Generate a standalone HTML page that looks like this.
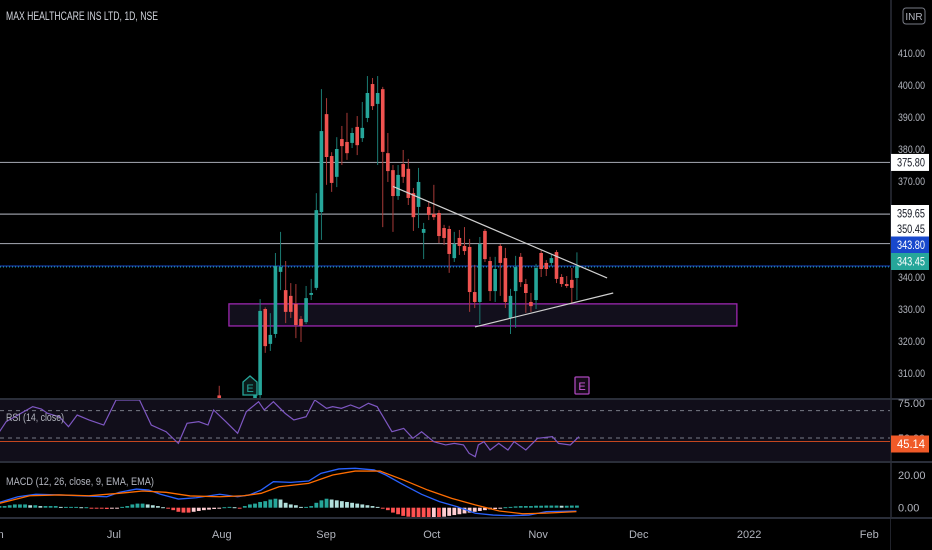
<!DOCTYPE html>
<html><head><meta charset="utf-8"><style>
html,body{margin:0;padding:0;background:#000;}
svg{display:block;font-family:"Liberation Sans Narrow","Liberation Sans",sans-serif;}
</style></head><body>
<svg id="chart" width="932" height="550" viewBox="0 0 932 550" xmlns="http://www.w3.org/2000/svg">
<defs>
<clipPath id="mainClip"><rect x="0" y="0" width="890" height="398"/></clipPath>
<clipPath id="rsiClip"><rect x="0" y="400" width="890" height="61"/></clipPath>
<clipPath id="macdClip"><rect x="0" y="463" width="890" height="54"/></clipPath>
</defs>
<rect x="0" y="0" width="932" height="550" fill="#000"/>
<text x="6" y="20" fill="#d1d4dc" font-size="12" textLength="152" lengthAdjust="spacingAndGlyphs">MAX HEALTHCARE INS LTD, 1D, NSE</text>
<g id="main" clip-path="url(#mainClip)"></g>
<rect x="0" y="400" width="890" height="61" fill="#110e1a"/>
<g id="rsi" clip-path="url(#rsiClip)"></g>
<g id="macd" clip-path="url(#macdClip)"></g>
<line x1="0" y1="399" x2="932" y2="399" stroke="#2a2e39" stroke-width="2"/>
<line x1="0" y1="462" x2="932" y2="462" stroke="#2a2e39" stroke-width="2"/>
<line x1="0" y1="518" x2="932" y2="518" stroke="#2a2e39" stroke-width="2"/>
<line x1="891" y1="0" x2="891" y2="550" stroke="#2a2e39" stroke-width="1.5"/>
<text x="6" y="421" fill="#b2b5be" font-size="11" textLength="58" lengthAdjust="spacingAndGlyphs">RSI (14, close)</text>
<text x="6" y="485" fill="#b2b5be" font-size="11" textLength="148" lengthAdjust="spacingAndGlyphs">MACD (12, 26, close, 9, EMA, EMA)</text>
<g id="axes"></g>
<g><rect x="903" y="8" width="22" height="16" rx="3" fill="none" stroke="#787b86"/><text x="914" y="20" fill="#b2b5be" font-size="10" text-anchor="middle">INR</text></g>
</svg>
<script>
// ---------- price data (bar index, OHLC) ----------
const barIdx = [-7,-6,-5,-4,-3,-2,-1,0,1,2,3,4,5,6,7,8,9,10,11,12,13,14,15,16,17,18,19,20,21,22,23,24,25,26,27,28,29,30,31,32,33,34,35,36,37,38,39,40,41,42,43,44,45,46,47,48,49,50,51,52,53,54,55,56,57,58,59,60,61,62,63];
const opens = [303,298,297,296,297,298,300,301,303.1,330,319.1,322.2,341.6,335.9,334.1,331.6,326.9,325.9,334.4,336.6,360.3,390.9,377.8,371.3,383.1,382.2,381.9,386.9,383.4,389.7,400.3,394.1,398.7,378.7,373.4,365.3,375.3,373.8,366.2,361.9,353.8,361.9,359.7,360,355.3,355,345.9,352.2,349.7,349.4,335.3,332.2,354.4,345,335.6,349.7,345.9,327.2,335.6,346.3,337.8,332.2,332.8,347.5,344.4,344.4,347.8,340,337.8,339.1,339.7];
const highs = [306,301,300,300,301,301,302,304,333.1,330.5,328.7,347.5,354.1,345,338.1,337.8,327.8,337.2,339.4,366.2,398.7,395.9,379,383.7,387.2,391.3,386.6,390.3,394.7,402.8,402.2,402.8,399.4,385,375,375,379.7,376.9,367.8,374.1,356.9,363.7,368.8,360.9,356.3,356,354.1,354.7,355.6,351.9,343.8,352.5,355,346.3,346.3,350.3,349.1,336.3,346.6,347.5,339.4,335,344.1,348.4,345.3,346.9,348.4,340.9,340.3,342.8,347.7];
const lows = [298,295,294,294,295,296,298,298,302,316.3,316.9,321,335.9,325.6,327.2,320.9,319.7,325.3,332.8,335.9,351.6,368.8,366.6,368.1,375,376.6,380.3,378.1,382.2,388.4,392.2,375,355.6,369.7,354.1,364.1,369.4,362.5,354.4,355.3,345.6,357.8,357.8,350.6,350,341.3,344.7,346.9,346.9,329.1,330.3,325.3,344.7,332.5,332.2,334.1,330.3,322.2,324.1,336.9,328.8,329.1,330,340,340.3,343.4,338.1,336.9,336.6,331.9,332.8];
const closes = [300,297,296,297,298,300,299,303,329.4,318.4,321.9,343.4,343.1,329.1,329.1,325,324.7,333.4,335,360.9,385.6,377.5,369.4,380,380.9,378.7,385,381.2,386.6,397.5,393.4,397.5,379.1,373.1,365.3,371.9,371.3,364.7,358.7,369.7,355,359.4,358.7,352.8,352.2,347.2,350.3,349.7,348.1,335.3,332.2,350.3,345.6,335.6,342.5,344.4,332.2,334.1,343.1,338.4,335,330.9,342.8,342.5,342.5,345.9,339.4,337.8,337.2,336.6,343.4];
// horizontal levels and drawings
const levels = [375.80, 359.65, 350.45];
const lastPrice = 343.45;
const trendUpper = [[27, 368.3],[68.9, 339.7]];
const trendLower = [[43.05, 324.4],[70.1, 335.0]];
const zoneBox = [[-5.1, 331.6],[94.3, 324.7]];
const priceTicks = [410,400,390,380,370,340,330,320,310];
// ---------- RSI ----------
const rsiIdx = [-50,-48.7,-46.4,-43.5,-41.8,-40.6,-38.3,-36.5,-34.8,-32.5,-29.6,-27.2,-22.6,-20.3,-17.4,-15,-13.3,-11,-9.2,-8.1,-5.7,-3.4,-1.7,0.7,1.8,3.6,5.9,7.6,10,11.7,14,15.2,16.9,18.7,20.4,22.2,23.9,26.8,29.1,30.9,32.6,35,37.3,39,40.8,41.9,43.1,43.7,44.8,46,47.7,49.5,50.7,53,55.3,58.2,59.4,61.7,63.4];
const rsiVals = [55.6,64.6,70.5,78,75.9,72,69,60.1,70.5,66.1,61.6,83.9,83.9,61.6,55.6,45.2,63.1,64.6,61.6,75,64.6,54.2,73.5,82.4,75,82.4,72,66.1,69,83.9,76.5,78,76.5,79.5,76.5,81,78,55.6,58.6,49.7,55.6,46.7,43.8,45.2,43.8,36.3,33.3,43.8,46.7,39.3,45.2,39.3,46.7,39.3,49.7,51.2,45.2,43.8,51.2];
const rsiLast = 45.14;
// ---------- MACD ----------
const macdIdx = [-50,-46.4,-42.9,-38.3,-33.6,-29.0,-26.6,-23.2,-20.8,-18.5,-15.0,-11.5,-6.9,-3.4,-1.1,1.2,3.6,7.0,10.5,12.9,16.4,19.6,23.3,25.6,29.1,32.6,36.1,39.6,43.1,46.6,50.0,53.6,57.0,62.9];
const macdVals = [3.3,6.7,8.2,7.8,7.2,6.7,9.4,11.4,10.8,8.2,5.3,6.1,8.2,6.7,7.8,10.8,15.9,15.5,16.3,21.0,23.7,24.1,23.1,20.0,13.9,8.2,3.7,0.6,-3.4,-4.5,-4.9,-4.5,-2.4,-2.0];
const sigIdx = [-50,-44.1,-38.3,-32.5,-26.6,-22,-17.4,-12.7,-6.9,-2.2,1.2,4.7,10.5,15.2,19.6,24.5,29.1,33.8,38.5,43.1,47.8,52.4,57.0,62.9];
const sigVals = [2.7,7.3,7.8,7.3,8.8,10.2,9.4,7.2,6.7,7.3,8.8,12.8,14.9,20.0,22.4,22.4,16.9,10.8,5.7,1.7,-2.0,-3.7,-3.3,-2.4];
const histStart = -50;
const histVals = [1,1,1.5,2,2,2,1.5,1.5,1,1, 1,1,0.5,0.5,0.5,0.5,0.3,0.3,-0.3,-0.5, -0.5,-0.8,-0.5,-0.3,0.5,1,2,2.5,2.5,2, 1.5,1,0.3,-0.5,-1.5,-2.5,-3,-3,-2.5,-2, -1.5,-1.2,-0.8,-0.3,0.3,0.5,0.3,-0.5,1,2, 2.5,3.5,4,5,5.5,5,3,2,1.5,0.5, 0.5,1,3,4.5,5.5,5,4.5,4,3.5,3, 2.5,2,1.5,1,0.5,-0.5,-1.5,-3,-4,-5, -5.5,-6,-6.5,-6.5,-6.5,-6,-6,-5.5,-5,-4.5, -4,-3.5,-3,-2.5,-2,-1.5,-1,-0.8,-0.5,0.3, 0.5,0.8,1,1,1,1.2,1.2,1.3,1.3,1.3,1.2,1.2,1.3,1.3];
const macdTicks = [20, 0];
// ---------- time axis ----------
const monthLabels = ["Jun","Jul","Aug","Sep","Oct","Nov","Dec","2022","Feb"];
const monthIdx = [-50.9,-27.6,-6.5,13.9,34.6,55.4,75.1,96.7,120.2];

const NS = "http://www.w3.org/2000/svg";
const xS = i => 255 + i * 5.11;
const yP = p => 373 - (p - 310) * 3.2;
const yR = v => 410 - (v - 75) * 1.12;
const yM = v => 507.7 - v * 1.635;
function mk(tag, attrs, parent){const e=document.createElementNS(NS,tag);for(const k in attrs)e.setAttribute(k,attrs[k]);parent.appendChild(e);return e;}
const main = document.getElementById('main'), rsi = document.getElementById('rsi'), macd = document.getElementById('macd'), axes = document.getElementById('axes');

let zb = mk('rect',{x:xS(zoneBox[0][0]),y:yP(zoneBox[0][1]),width:xS(zoneBox[1][0])-xS(zoneBox[0][0]),height:yP(zoneBox[1][1])-yP(zoneBox[0][1]),fill:'#120f1c',stroke:'#9c27b0','stroke-width':1.3},main);


levels.forEach((lv,k)=>{
  const l = mk('line',{x1:0,x2:890,y1:yP(lv),y2:yP(lv),stroke:'#9598a1','stroke-width':1.2},main);
  
  
});
let lp = mk('line',{x1:0,x2:890,y1:yP(lastPrice),y2:yP(lastPrice),stroke:'#1848cc','stroke-width':1},main);


let lp2 = mk('line',{x1:0,x2:890,y1:yP(lastPrice)+1,y2:yP(lastPrice)+1,stroke:'#26a69a','stroke-width':1,'stroke-dasharray':'1 2'},main);


for(let i=0;i<barIdx.length;i++){
  const x = xS(barIdx[i]); const up = closes[i] >= opens[i];
  const col = up ? '#26a69a' : '#ef5350';
  const w = mk('line',{x1:x,x2:x,y1:yP(highs[i]),y2:yP(lows[i]),stroke:up?'#1b7a72':'#a83a38','stroke-width':1},main);
  
  
  const top = yP(Math.max(opens[i],closes[i])), bot = yP(Math.min(opens[i],closes[i]));
  const b = mk('rect',{x:x-1.8,y:top,width:3.6,height:Math.max(1,bot-top),fill:col},main);
  
  
}
[trendUpper,trendLower].forEach((t,k)=>{
  const l = mk('line',{x1:xS(t[0][0]),y1:yP(t[0][1]),x2:xS(t[1][0]),y2:yP(t[1][1]),stroke:'#d0d0d0','stroke-width':1.2},main);
  
  
});
let e1 = mk('g',{},main);


mk('path',{d:'M243 395 V382 L250 376 L257 382 V395 Z',fill:'#0b1a19',stroke:'#26a69a','stroke-width':1.3},e1);
mk('text',{x:250,y:392,fill:'#26a69a','font-size':11,'text-anchor':'middle'},e1).textContent='E';
let e2 = mk('g',{},axes);


mk('rect',{x:575,y:377,width:14,height:17,rx:1,fill:'#150a18',stroke:'#ab47bc','stroke-width':1.3},e2);
mk('text',{x:582,y:390,fill:'#ce5ddb','font-size':11,'text-anchor':'middle'},e2).textContent='E';

priceTicks.forEach(p=>{
  const t = mk('text',{x:898,y:yP(p)+4,fill:'#b2b5be','font-size':11,textLength:27,lengthAdjust:'spacingAndGlyphs'},axes);
  t.textContent = p.toFixed(2);
  
  
});
function label(y,txt,bg,fg,name){
  const g = mk('g',{},axes);
  
  
  mk('rect',{x:891,y:y-8.5,width:38,height:17,fill:bg},g);
  mk('text',{x:897,y:y+4,fill:fg,'font-size':11.5,textLength:28,lengthAdjust:'spacingAndGlyphs'},g).textContent=txt;
}
label(yP(levels[0]),levels[0].toFixed(2),'#ffffff','#131722','level-label-375');
label(213.5,levels[1].toFixed(2),'#ffffff','#131722','level-label-359');
label(229,levels[2].toFixed(2),'#ffffff','#131722','level-label-350');
label(245,'343.80','#1848cc','#ffffff','bid-label');
label(261.5,lastPrice.toFixed(2),'#26a69a','#ffffff','last-price-label');

mk('line',{x1:0,x2:890,y1:yR(70)-5,y2:yR(70)-5,stroke:'#787b86','stroke-dasharray':'4 4'},rsi);
mk('line',{x1:0,x2:890,y1:yR(50),y2:yR(50),stroke:'#787b86','stroke-dasharray':'4 4'},rsi);
let rl = mk('line',{x1:0,x2:890,y1:yR(rsiLast)-2,y2:yR(rsiLast)-2,stroke:'#c4461f','stroke-width':1},rsi);


let rp = mk('polyline',{points:rsiIdx.map((d,i)=>xS(d)+','+yR(rsiVals[i])).join(' '),fill:'none',stroke:'#7e57c2','stroke-width':1.2},rsi);


let t75 = mk('text',{x:898,y:407,fill:'#b2b5be','font-size':11,textLength:27,lengthAdjust:'spacingAndGlyphs'},axes); t75.textContent='75.00';


let t50 = mk('text',{x:898,y:442,fill:'#b2b5be','font-size':11,textLength:27,lengthAdjust:'spacingAndGlyphs'},axes); t50.textContent='50.00';


label(444,rsiLast.toFixed(2),'#f05a28','#ffffff','rsi-value-label');

for(let i=0;i<histVals.length;i++){
  const v = histVals[i], prev = i?histVals[i-1]:v;
  let col = v>=0 ? (v>=prev?'#26a69a':'#b2dfdb') : (v<=prev?'#ff5252':'#ffcdd2');
  const x = xS(histStart+i); const y0 = yM(0), y1 = yM(v);
  const r = mk('rect',{x:x-1.9,y:Math.min(y0,y1),width:3.8,height:Math.max(1,Math.abs(y1-y0)),fill:col},macd);
  
  
}
let ml = mk('polyline',{points:macdIdx.map((d,i)=>xS(d)+','+yM(macdVals[i])).join(' '),fill:'none',stroke:'#2962ff','stroke-width':1.3},macd);


let sl = mk('polyline',{points:sigIdx.map((d,i)=>xS(d)+','+yM(sigVals[i])).join(' '),fill:'none',stroke:'#ff6d00','stroke-width':1.3},macd);


macdTicks.forEach(v=>{
  const t = mk('text',{x:898,y:yM(v)+4,fill:'#b2b5be','font-size':11},axes);
  t.textContent = v.toFixed(2);
  
  
});
monthLabels.forEach((m,i)=>{
  const t = mk('text',{x:xS(monthIdx[i]),y:538,fill:'#b2b5be','font-size':11,'text-anchor':'middle'},axes);
  t.textContent = m;
  
  
});
mk('rect',{x:891,y:519,width:41,height:31,fill:'#000'},axes);
</script>
</body></html>
